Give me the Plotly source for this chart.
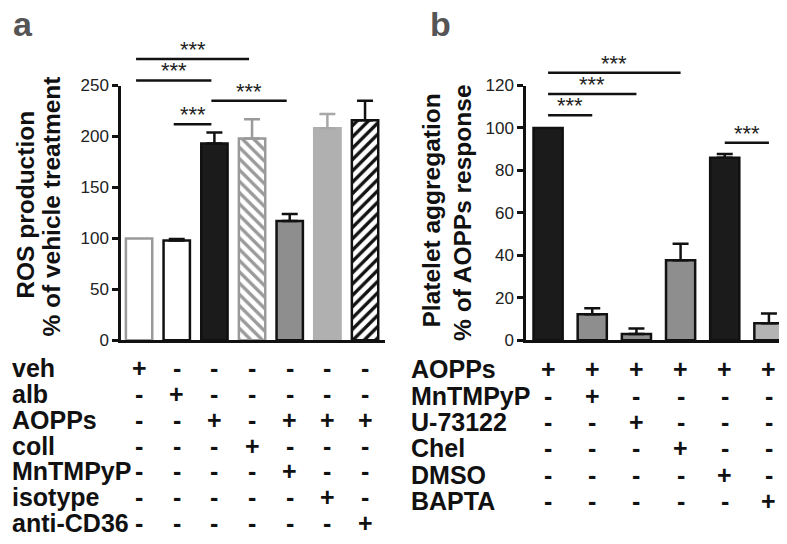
import plotly.graph_objects as go

W, H = 787, 544

# ---------------- data ----------------
# Panel a: ROS production (% of vehicle treatment)
cond_a = ["veh", "alb", "AOPPs", "coll", "AOPPs+MnTMPyP", "AOPPs+isotype", "AOPPs+anti-CD36"]
ros_mean = [100, 98, 193, 198, 117, 208, 216]
ros_err = [0, 1.5, 11, 19, 7, 14, 19]
rows_a = ["veh", "alb", "AOPPs", "coll", "MnTMPyP", "isotype", "anti-CD36"]
signs_a = ["+------", "-+-----", "--+-+++", "---+---", "----+--", "-----+-", "------+"]
sig_a = [(0, 3, 276), (0, 2, 255), (2, 4, 235), (1, 2, 212)]
ticks_a = [0, 50, 100, 150, 200, 250]

# Panel b: platelet aggregation (% of AOPPs response)
cond_b = ["AOPPs", "AOPPs+MnTMPyP", "AOPPs+U-73122", "AOPPs+Chel", "AOPPs+DMSO", "AOPPs+BAPTA"]
agg_mean = [100, 12.3, 3, 37.7, 86, 8]
agg_err = [0, 2.8, 2.6, 7.8, 1.8, 4.6]
rows_b = ["AOPPs", "MnTMPyP", "U-73122", "Chel", "DMSO", "BAPTA"]
signs_b = ["++++++", "-+----", "--+---", "---+--", "----+-", "-----+"]
sig_b = [(0, 3, 126), (0, 2, 116), (0, 1, 106), (4, 5, 93)]
ticks_b = [0, 20, 40, 60, 80, 100, 120]

# ---------------- styles ----------------
BLK = "#1b1b1b"
style_a = [
    dict(fill="white", line="#9a9a9a", err="#9a9a9a", pat=None),
    dict(fill="white", line="#111111", err="#111111", pat=None),
    dict(fill=BLK, line="#111111", err="#111111", pat=None),
    dict(fill="white", line="#9a9a9a", err="#9a9a9a", pat=("\\", "#9a9a9a")),
    dict(fill="#8e8e8e", line="#111111", err="#111111", pat=None),
    dict(fill="#b0b0b0", line="#b0b0b0", err="#a8a8a8", pat=None),
    dict(fill="white", line="#111111", err="#111111", pat=("/", "#111111")),
]
style_b = [
    dict(fill=BLK, line="#111111", err="#111111", pat=None),
    dict(fill="#8e8e8e", line="#111111", err="#111111", pat=None),
    dict(fill="#8e8e8e", line="#111111", err="#111111", pat=None),
    dict(fill="#8e8e8e", line="#111111", err="#111111", pat=None),
    dict(fill=BLK, line="#111111", err="#111111", pat=None),
    dict(fill="#b3b3b3", line="#111111", err="#111111", pat=None),
]

FONT = "Liberation Sans, Arial, sans-serif"


def px(x):
    return x / W


def py(y):
    return 1 - y / H


dom_a = [px(113), px(377)]
dom_b = [px(518), px(783)]
dom_y = [py(335), py(71)]

fig = go.Figure()


def add_bars(means, errs, styles, xa, ya, width):
    for i, (m, e, s) in enumerate(zip(means, errs, styles)):
        marker = dict(color=s["fill"], line=dict(color=s["line"], width=2.5))
        if s["pat"]:
            marker["pattern"] = dict(shape=s["pat"][0], fgcolor=s["pat"][1], bgcolor="white",
                                     size=8, solidity=0.42, fillmode="replace")
        fig.add_trace(go.Bar(
            x=[i], y=[m], width=width, marker=marker, xaxis=xa, yaxis=ya,
            showlegend=False, hoverinfo="skip",
            error_y=dict(type="data", array=[e], arrayminus=[0], symmetric=False,
                         visible=e > 0, color=s["err"], thickness=2.5, width=8),
        ))


add_bars(ros_mean, ros_err, style_a, "x", "y", 0.7)
add_bars(agg_mean, agg_err, style_b, "x2", "y2", 0.66)

axis_common = dict(showline=True, linecolor="#111111", linewidth=2.5, zeroline=False,
                   showgrid=False)
tickfont = dict(size=17, color="#222222", family=FONT)
fig.update_layout(
    width=W, height=H, margin=dict(l=0, r=0, t=0, b=0),
    paper_bgcolor="white", plot_bgcolor="white", barmode="overlay",
    font=dict(family=FONT, color="#111111"),
    xaxis=dict(domain=dom_a, range=[-0.48, 6.53], showticklabels=False, ticks="",
               anchor="y", **axis_common),
    yaxis=dict(domain=dom_y, range=[0, 250], tickvals=ticks_a, ticks="outside", ticklen=6,
               tickwidth=2.5, tickcolor="#111111", anchor="x", tickfont=tickfont,
               **axis_common),
    xaxis2=dict(domain=dom_b, range=[-0.5, 5.5], showticklabels=False, ticks="",
                anchor="y2", **axis_common),
    yaxis2=dict(domain=dom_y, range=[0, 120], tickvals=ticks_b, ticks="outside", ticklen=6,
                tickwidth=2.5, tickcolor="#111111", anchor="x2", tickfont=tickfont,
                **axis_common),
)

shapes = []
ann = []


def add_sig(sigs, xref, yref, ymax, off):
    for (i, j, lvl) in sigs:
        shapes.append(dict(type="line", xref=xref, yref=yref + " domain",
                           x0=i + off, x1=j + off, y0=lvl / ymax, y1=lvl / ymax,
                           line=dict(color="#111111", width=2.5)))
        ann.append(dict(text="***", xref=xref, yref=yref + " domain",
                        x=(i + j) / 2 + off, y=lvl / ymax, yanchor="bottom",
                        showarrow=False, yshift=-5,
                        font=dict(size=22, color="#222222", family=FONT)))


add_sig(sig_a, "x", "y", 250, -0.08)
add_sig(sig_b, "x2", "y2", 120, 0)


def add_table(rows, signs, xref, label_x, y0, dy):
    for r, (lab, sg) in enumerate(zip(rows, signs)):
        yy = py(y0 + r * dy)
        ann.append(dict(text=lab, xref="paper", yref="paper", x=px(label_x), y=yy,
                        xanchor="left", yanchor="middle", showarrow=False,
                        font=dict(size=25, color="#111111", family=FONT, weight="bold")))
        for c, ch in enumerate(sg):
            ann.append(dict(text=ch, xref=xref, yref="paper", x=c, y=yy,
                            xanchor="center", yanchor="middle", showarrow=False,
                            font=dict(size=25, color="#111111", family=FONT, weight="bold")))


add_table(rows_a, signs_a, "x", 2, 364, 26.7)
add_table(rows_b, signs_b, "x2", 401, 365, 27.3)

# y-axis titles
for txt, xc, yc in [("ROS production", 17.5, 195), ("% of vehicle treatment", 43.5, 197),
                    ("Platelet aggregation", 423.5, 201), ("% of AOPPs response", 455, 203)]:
    ann.append(dict(text=txt, xref="paper", yref="paper", x=px(xc), y=py(yc),
                    xanchor="center", yanchor="middle", textangle=-90, showarrow=False,
                    font=dict(size=24.5, color="#111111", family=FONT, weight="bold")))

# panel letters
for txt, xl in [("a", 3), ("b", 420)]:
    ann.append(dict(text=txt, xref="paper", yref="paper", x=px(xl), y=py(7),
                    xanchor="left", yanchor="middle", showarrow=False,
                    font=dict(size=34, color="#555555", family=FONT, weight="bold")))

fig.update_layout(shapes=shapes, annotations=ann)
fig.write_html("out.html")
